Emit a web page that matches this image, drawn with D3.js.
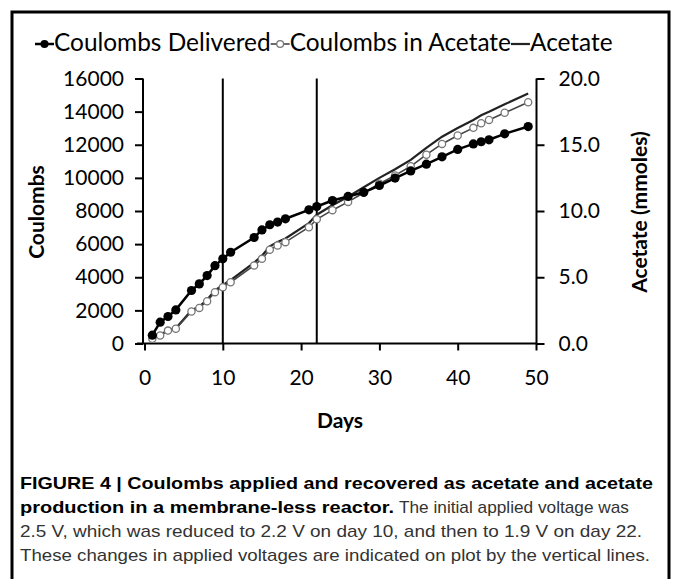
<!DOCTYPE html>
<html><head><meta charset="utf-8">
<script src="https://cdn.jsdelivr.net/npm/d3@7/dist/d3.min.js"></script>
<style>html,body{margin:0;padding:0;background:#fff;}svg{display:block;}</style>
</head><body>
<svg id="c" width="673" height="579"></svg>
<script>
const days = [1,2,3,4,6,7,8,9,10,11,14,15,16,17,18,21,22,24,26,28,30,32,34,36,38,40,42,43,44,46,49];
const coulombsDelivered = [500,1290,1630,2030,3200,3600,4100,4700,5110,5510,6400,6860,7170,7330,7530,8070,8270,8630,8880,9130,9540,9990,10420,10830,11270,11720,12050,12180,12300,12660,13100];
const coulombsInAcetate = [280,480,780,890,1930,2150,2550,3100,3400,3700,4710,5110,5660,5920,6120,7020,7500,8050,8550,9100,9650,10150,10700,11400,12050,12560,13020,13300,13500,13930,14570];
const acetateMmol = [0.36,0.62,1.01,1.15,2.5,2.79,3.3,4.02,4.4,4.79,6.1,6.62,7.33,7.67,7.93,9.09,9.72,10.43,11.08,11.79,12.5,13.15,13.86,14.77,15.61,16.27,16.87,17.23,17.49,18.05,18.87];
const voltageChangeDays = [10,22];
const xTicks = [0,10,20,30,40,50];
const yLeftTicks = [0,2000,4000,6000,8000,10000,12000,14000,16000];
const yRightTicks = [0,5,10,15,20];
const legendLabels = ["Coulombs Delivered","Coulombs in Acetate","Acetate"];
const captionBold1 = "FIGURE 4 | Coulombs applied and recovered as acetate and acetate";
const captionBold2 = "production in a membrane-less reactor.";
const captionReg2 = "The initial applied voltage was";
const captionReg3 = "2.5 V, which was reduced to 2.2 V on day 10, and then to 1.9 V on day 22.";
const captionReg4 = "These changes in applied voltages are indicated on plot by the vertical lines.";

const svg = d3.select("#c");
const F = "Lato, 'Open Sans', sans-serif";
const CF = "'Liberation Sans Narrow', 'Liberation Sans', Arial, sans-serif";

// frame
svg.append("rect").attr("x",12).attr("y",12).attr("width",657).attr("height",600)
  .attr("fill","none").attr("stroke","#000").attr("stroke-width",3);

const x = d3.scaleLinear().domain([0,50]).range([144.5,536]);
const yL = d3.scaleLinear().domain([0,16000]).range([343.5,78.5]);
const yR = d3.scaleLinear().domain([0,20]).range([343.5,78.5]);

// axes
const gL = svg.append("g").attr("transform","translate(143,0)")
  .call(d3.axisLeft(yL).tickValues(yLeftTicks).tickSize(8).tickPadding(11).tickFormat(d3.format("d")));
const gR = svg.append("g").attr("transform","translate(536.5,0)")
  .call(d3.axisRight(yR).tickValues(yRightTicks).tickSize(8).tickPadding(14).tickFormat(d3.format(".1f")));
const gX = svg.append("g").attr("transform","translate(0,343.5)")
  .call(d3.axisBottom(x).tickValues(xTicks).tickSize(7).tickPadding(20).tickFormat(d3.format("d")));
[gL,gR,gX].forEach(g=>{
  g.select(".domain").attr("stroke","#000").attr("stroke-width",2);
  g.selectAll(".tick line").attr("stroke","#000").attr("stroke-width",2);
  g.selectAll(".tick text").attr("font-family",F).attr("font-size",21).attr("fill","#000");
});
gX.select(".domain").attr("d","M137,0H536.5");
gL.select(".domain").attr("d","M0,78.5V343.5");
gR.select(".domain").attr("d","M0,78.5V343.5");

// vertical lines
svg.selectAll("line.v").data(voltageChangeDays).enter().append("line")
  .attr("x1",d=>x(d)).attr("x2",d=>x(d)).attr("y1",yL(16000)).attr("y2",yL(0))
  .attr("stroke","#000").attr("stroke-width",2);

// series
const idx = d3.range(days.length);
const lineAc = d3.line().x(i=>x(days[i])).y(i=>yR(acetateMmol[i]));
svg.append("path").attr("d",lineAc(idx)).attr("fill","none").attr("stroke","#222").attr("stroke-width",2.2);
const lineCA = d3.line().x(i=>x(days[i])).y(i=>yL(coulombsInAcetate[i]));
svg.append("path").attr("d",lineCA(idx)).attr("fill","none").attr("stroke","#444").attr("stroke-width",1.6);
svg.selectAll("circle.ca").data(idx).enter().append("circle")
  .attr("cx",i=>x(days[i])).attr("cy",i=>yL(coulombsInAcetate[i])).attr("r",3.6)
  .attr("fill","#fff").attr("stroke","#777").attr("stroke-width",1.3);
const lineCD = d3.line().x(i=>x(days[i])).y(i=>yL(coulombsDelivered[i]));
svg.append("path").attr("d",lineCD(idx)).attr("fill","none").attr("stroke","#000").attr("stroke-width",2.5);
svg.selectAll("circle.cd").data(idx).enter().append("circle")
  .attr("cx",i=>x(days[i])).attr("cy",i=>yL(coulombsDelivered[i])).attr("r",4.6)
  .attr("fill","#000");

// axis titles
svg.append("text").attr("x",340).attr("y",428).attr("text-anchor","middle")
  .attr("font-family",F).attr("font-weight","bold").attr("font-size",21).text("Days");
svg.append("text").attr("transform","translate(44,212) rotate(-90)").attr("text-anchor","middle")
  .attr("font-family",F).attr("font-weight","bold").attr("font-size",21).text("Coulombs");
svg.append("text").attr("transform","translate(647,212) rotate(-90)").attr("text-anchor","middle")
  .attr("font-family",F).attr("font-weight","bold").attr("font-size",21).text("Acetate (mmoles)");

// legend: same font size for all items, fitted to span 35..613
const lg = svg.append("g");
const ly = 44, markW = 19, legL = 35, legR = 613;
let fs = 21;
const texts = legendLabels.map(t=>lg.append("text").attr("y",ly+7).attr("font-family",F).attr("font-size",fs).text(t));
let tw = d3.sum(texts, t=>t.node().getComputedTextLength());
const sc = (legR-legL-3*markW)/tw;
fs = fs*sc;
texts.forEach(t=>t.attr("font-size",fs));
let cx = legL;
const styles = [
  {stroke:"#000",sw:2.5,dot:{r:4,fill:"#000",stroke:"none"}},
  {stroke:"#444",sw:1.6,dot:{r:3.4,fill:"#fff",stroke:"#777"}},
  {stroke:"#222",sw:2.2,dot:null}
];
legendLabels.forEach((lab,i)=>{
  const s = styles[i];
  lg.append("line").attr("x1",cx).attr("x2",cx+markW).attr("y1",ly).attr("y2",ly).attr("stroke",s.stroke).attr("stroke-width",s.sw);
  if(s.dot) lg.append("circle").attr("cx",cx+markW/2).attr("cy",ly).attr("r",s.dot.r).attr("fill",s.dot.fill).attr("stroke",s.dot.stroke).attr("stroke-width",1.3);
  texts[i].attr("x",cx+markW);
  cx += markW + texts[i].node().getComputedTextLength();
});

// caption
function cap(t,xx,yy,w,bold){
  svg.append("text").attr("x",xx).attr("y",yy).attr("font-family",CF).attr("font-size",17)
    .attr("font-weight",bold?"bold":"normal").attr("fill",bold?"#000":"#333")
    .attr("textLength",w).attr("lengthAdjust","spacingAndGlyphs").text(t);
}
cap(captionBold1,20,489,633,true);
cap(captionBold2,20,513,374,true);
cap(captionReg2,399,513,230,false);
cap(captionReg3,20,537,622,false);
cap(captionReg4,20,561,630,false);
</script>
</body></html>
